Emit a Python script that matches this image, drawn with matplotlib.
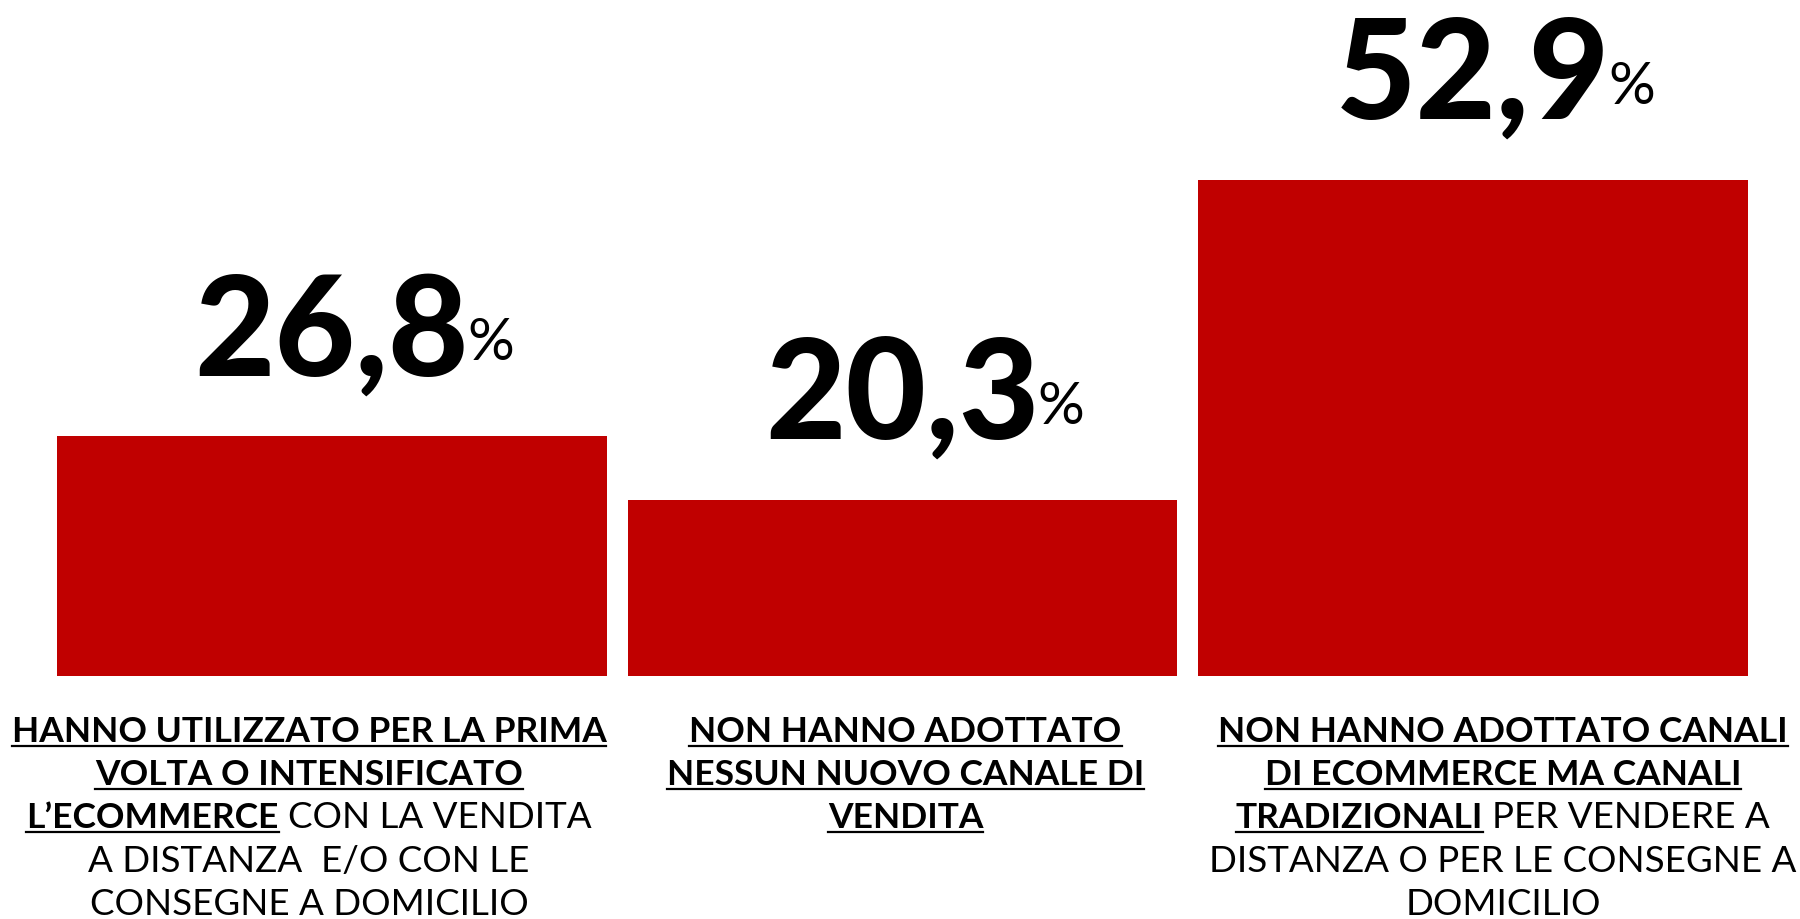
# -*- coding: utf-8 -*-
"""Bar chart: channels adopted by shops (percent)."""
import matplotlib
matplotlib.use('Agg')
# pylint: disable=wrong-import-position
import matplotlib.pyplot as plt
from matplotlib.lines import Line2D

values = [26.8, 20.3, 52.9]
value_labels = ['26,8', '20,3', '52,9']

# each category: list of lines, each line: list of (text, bold+underlined)
category_1 = [
    [('HANNO UTILIZZATO PER LA PRIMA', True)],
    [('VOLTA O INTENSIFICATO', True)],
    [('L\u2019ECOMMERCE', True), ('CON LA VENDITA', False)],
    [('A DISTANZA  E/O CON LE', False)],
    [('CONSEGNE A DOMICILIO', False)],
]
category_2 = [
    [('NON HANNO ADOTTATO', True)],
    [('NESSUN NUOVO CANALE DI', True)],
    [('VENDITA', True)],
]
category_3 = [
    [('NON HANNO ADOTTATO CANALI', True)],
    [('DI ECOMMERCE MA CANALI', True)],
    [('TRADIZIONALI', True), ('PER VENDERE A', False)],
    [('DISTANZA O PER LE CONSEGNE A', False)],
    [('DOMICILIO', False)],
]
categories = [category_1, category_2, category_3]
label_shift_px = [-23, 3, 30]

BAR_COLOR = '#C00000'
FONT = 'Lato'
FIG_W, FIG_H = 1800, 920


def to_fig(x_px, y_px):
    """Display pixels (origin bottom-left) to figure fraction."""
    return x_px / FIG_W, y_px / FIG_H


def text_width(fig, renderer, txt, **kw):
    """Width in pixels of a text drawn with the given props."""
    t = fig.text(0, 0, txt, **kw)
    w = t.get_window_extent(renderer).width
    t.remove()
    return w


def main():
    """main."""
    fig = plt.figure(figsize=(18, 9.2), dpi=100)
    ax = fig.add_axes([46.75 / FIG_W, (FIG_H - 677) / FIG_H,
                       1711.5 / FIG_W, (677 - 111.4) / FIG_H])
    xs = list(range(len(values)))
    ax.bar(xs, values, width=0.964, color=BAR_COLOR)
    ax.set_xlim(-0.5, 2.5)
    ax.set_ylim(2.35, 60)
    ax.axis('off')

    fig.canvas.draw()
    renderer = fig.canvas.get_renderer()

    # value labels
    for xi, val, lab in zip(xs, values, value_labels):
        cx, top = ax.transData.transform((xi, val))
        base = top + 62
        t = fig.text(*to_fig(cx, base), lab, ha='center', va='baseline',
                     fontsize=100, fontweight='black', family=FONT)
        bb = t.get_window_extent(renderer)
        fig.text(*to_fig(bb.x1 - 2, base + 15), '%', ha='left',
                 va='baseline', fontsize=42, fontweight='normal',
                 color='black', family=FONT)

    # category labels under the bars
    line_gap = 43.2
    first_base = FIG_H - 742
    bold_kw = dict(fontsize=25.5, fontweight='bold', family=FONT)
    reg_kw = dict(fontsize=26.5, fontweight='normal', family=FONT)
    space = (text_width(fig, renderer, 'A A', **reg_kw)
             - text_width(fig, renderer, 'AA', **reg_kw))
    for xi, lines, shift in zip(xs, categories, label_shift_px):
        cx = ax.transData.transform((xi, 0))[0] + shift
        for i, segs in enumerate(lines):
            base = first_base - i * line_gap
            widths = [text_width(fig, renderer, s, **(bold_kw if b else reg_kw))
                      for s, b in segs]
            total = sum(widths) + space * (len(segs) - 1)
            x0 = cx - total / 2
            for (s, b), w in zip(segs, widths):
                fig.text(*to_fig(x0, base), s, ha='left', va='baseline',
                         **(bold_kw if b else reg_kw))
                if b:
                    fig.add_artist(Line2D(
                        [x0 / FIG_W, (x0 + w) / FIG_W],
                        [(base - 5) / FIG_H] * 2,
                        transform=fig.transFigure, color='black',
                        linewidth=1.6))
                x0 += w + space

    fig.savefig('out.png', dpi=100, facecolor='white')


if __name__ == '__main__':
    main()
